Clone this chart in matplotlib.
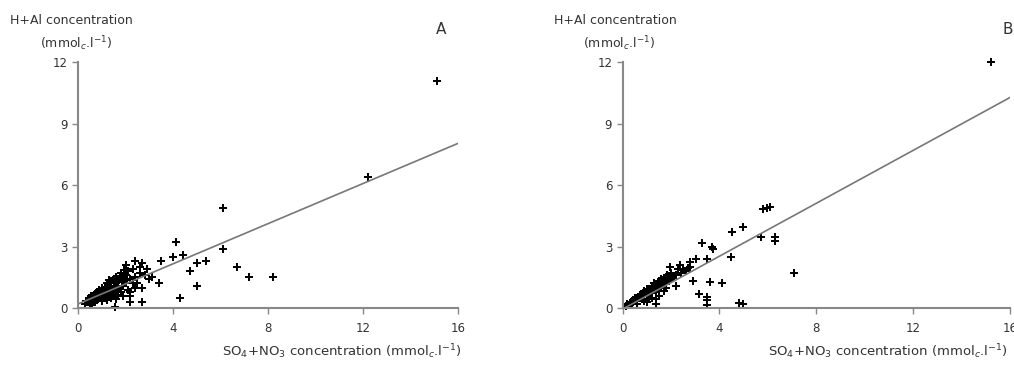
import numpy as np
import matplotlib.pyplot as plt

plt.rcParams['font.family'] = 'DejaVu Sans'
plt.rcParams['mathtext.fontset'] = 'dejavusans'

# panel A: SO4+NO3 vs H+Al
a_x = [0.3, 0.4, 0.5, 0.5, 0.6, 0.6, 0.7, 0.7, 0.8, 0.8, 0.9, 0.9, 0.9, 1.0, 1.0, 1.0,
       1.1, 1.1, 1.1, 1.2, 1.2, 1.2, 1.3, 1.3, 1.3, 1.4, 1.4, 1.4, 1.5, 1.5, 1.5, 1.6,
       1.6, 1.6, 1.7, 1.7, 1.8, 1.8, 1.8, 1.9, 1.9, 2.0, 2.0, 2.1, 2.1, 2.2, 2.3, 2.4,
       2.5, 2.6, 2.6, 2.8, 2.9, 3.0, 0.7, 1.0, 1.4, 1.9, 2.2, 2.4, 0.5, 1.2, 1.6,
       0.35, 0.45, 0.55, 0.65, 0.75, 0.85, 0.95, 1.05, 1.15, 1.25, 1.35, 1.45, 1.55,
       1.65, 1.75, 1.85, 1.95, 2.05, 0.6, 0.8, 1.0, 1.2, 1.3, 1.7, 2.3, 2.0,
       1.56, 2.2, 2.7, 2.2, 2.7, 2.4, 2.7, 3.1, 3.4, 3.5, 4.0, 4.1, 4.4, 4.7, 5.0,
       5.0, 5.4, 4.3, 6.1, 6.1, 6.7, 7.2, 8.2, 12.2, 15.1]
a_y = [0.2, 0.3, 0.25, 0.45, 0.4, 0.6, 0.5, 0.7, 0.6, 0.8, 0.5, 0.7, 0.9, 0.6, 0.8, 1.0,
       0.7, 0.9, 0.5, 0.8, 1.0, 1.2, 0.6, 0.9, 1.1, 0.8, 1.0, 1.3, 0.7, 1.1, 1.4, 0.9,
       1.2, 1.5, 1.0, 1.3, 0.8, 1.4, 1.7, 1.1, 1.5, 1.2, 1.6, 0.9, 1.8, 1.4, 1.9, 1.5,
       1.2, 1.7, 2.0, 1.6, 1.9, 1.4, 0.3, 0.35, 0.5, 0.6, 0.8, 1.0, 0.15, 0.4, 0.45,
       0.35, 0.5, 0.6, 0.45, 0.75, 0.55, 0.85, 0.75, 1.0, 0.65, 1.2, 0.9, 1.25,
       1.05, 1.55, 1.25, 1.85, 1.35, 0.2, 0.4, 0.45, 0.55, 1.35, 0.65, 1.2, 2.1,
       0.05, 0.3, 0.3, 0.6, 1.0, 2.3, 2.2, 1.5, 1.2, 2.3, 2.5, 3.2, 2.6, 1.8, 2.2,
       1.1, 2.3, 0.5, 4.9, 2.9, 2.0, 1.5, 1.5, 6.4, 11.1]
a_fit = (0.49, 0.2)   # slope, intercept

# panel B
b_x = [0.15, 0.2, 0.3, 0.35, 0.4, 0.5, 0.5, 0.6, 0.7, 0.7, 0.8, 0.8, 0.9, 0.9, 1.0,
       1.0, 1.1, 1.1, 1.2, 1.2, 1.3, 1.3, 1.4, 1.4, 1.5, 1.5, 1.6, 1.6, 1.7, 1.8, 1.8,
       1.9, 2.0, 2.0, 2.1, 2.2, 2.3, 2.4, 2.5, 2.6, 2.7, 2.8, 0.6, 0.9, 1.2, 1.5, 1.0,
       1.4, 2.2, 1.4, 0.45, 0.65, 0.85, 1.05, 1.25, 1.45, 1.65, 1.85, 2.05, 1.1, 1.7,
       1.94, 2.36, 2.77, 2.9, 3.05, 3.14, 3.26, 3.5, 3.47, 3.47, 3.47,
       3.6, 3.7, 3.75, 4.1, 4.46, 4.5, 4.8, 4.96, 4.96, 5.7, 5.8, 5.95, 6.1, 6.3, 6.3,
       7.1, 15.2]
b_y = [0.1, 0.2, 0.15, 0.3, 0.25, 0.35, 0.5, 0.4, 0.5, 0.65, 0.45, 0.7, 0.6, 0.85,
       0.7, 0.95, 0.6, 0.9, 0.8, 1.1, 0.9, 1.2, 0.8, 1.05, 1.0, 1.3, 1.1, 1.4, 1.2, 1.0,
       1.5, 1.3, 1.4, 1.7, 1.5, 1.6, 1.9, 1.7, 1.85, 1.8, 1.95, 2.0, 0.2, 0.35, 0.5, 0.6,
       0.3, 0.45, 1.1, 0.2, 0.4, 0.55, 0.75, 0.8, 1.0, 1.15, 1.25, 1.6, 1.55, 0.45, 0.85,
       2.0, 2.1, 2.25, 1.3, 2.4, 0.7, 3.17, 2.4, 0.55, 0.4, 0.15,
       1.27, 3.0, 2.9, 1.2, 2.5, 3.7, 0.25, 0.2, 3.95, 3.46, 4.85, 4.88, 4.95, 3.46, 3.27,
       1.7, 12.0]
b_fit = (0.645, -0.05)

x_ticks = [0, 4, 8, 12, 16]
y_ticks = [0, 3, 6, 9, 12]

fig = plt.figure(figsize=(10.14, 3.65), dpi=100)
axes = [fig.add_axes([0.077, 0.156, 0.375, 0.674]),
        fig.add_axes([0.614, 0.156, 0.382, 0.674])]

txt = '#333333'
spine_c = '#888888'
letter_x = [0.94, 0.982]
head_x = [(-0.179, -0.10), (-0.176, -0.103)]
xlab_x = [0.379, 0.375]
for ax, xs, ys, fit, letter, lpos, hpos, xl in zip(axes, [a_x, b_x], [a_y, b_y],
                                                 [a_fit, b_fit], ['A', 'B'],
                                                 letter_x, head_x, xlab_x):
    ax.plot(xs, ys, 'P', color='black', markersize=6, markeredgewidth=0, clip_on=False)
    lx = np.array([0, 16])
    ax.plot(lx, fit[0] * lx + fit[1], color='#777777', linewidth=1.2)
    ax.set_xlim(0, 16)
    ax.set_ylim(0, 12)
    ax.set_xticks(x_ticks)
    ax.set_yticks(y_ticks)
    for s in ['top', 'right']:
        ax.spines[s].set_visible(False)
    for s in ['left', 'bottom']:
        ax.spines[s].set_color(spine_c)
        ax.spines[s].set_linewidth(1.5)
    ax.tick_params(colors=spine_c, labelcolor=txt, labelsize=8.5, length=4, width=1)
    ax.tick_params(axis='x', pad=6)
    ax.set_xlabel('SO$_4$+NO$_3$ concentration (mmol$_c$.l$^{-1}$)', color=txt,
                  fontsize=9.5, ha='left', va='center')
    ax.xaxis.set_label_coords(xl, -0.179)
    ax.text(hpos[0], 1.167, 'H+Al concentration', transform=ax.transAxes, color=txt,
            fontsize=9, ha='left', va='center')
    ax.text(hpos[1], 1.074, '(mmol$_c$.l$^{-1}$)', transform=ax.transAxes, color=txt,
            fontsize=9, ha='left', va='center')
    ax.text(lpos, 1.134, letter, transform=ax.transAxes, color=txt, fontsize=11,
            ha='left', va='center')

fig.savefig('out.png', dpi=100)
